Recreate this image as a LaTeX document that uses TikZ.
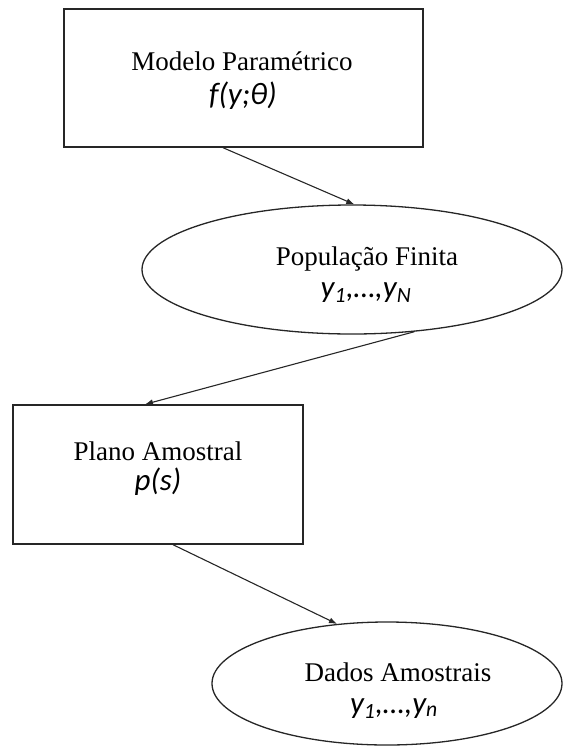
\documentclass[tikz,border=0pt]{standalone}
\usepackage{fontspec}
\setmainfont{Liberation Serif}
\newfontfamily\carl{Carlito}
\usetikzlibrary{shapes.geometric,arrows.meta,calc}
\begin{document}
\begin{tikzpicture}[x=1pt,y=-1pt,
  box/.style={draw=black!85,line width=1.4pt,rectangle,inner sep=0pt},
  oval/.style={draw=black!85,line width=1.3pt,ellipse,inner sep=0pt},
  lbl/.style={anchor=base,inner sep=0pt,font=\fontsize{27}{32}\selectfont},
  mth/.style={anchor=base,inner sep=0pt,font=\carl\itshape\fontsize{31}{36}\selectfont},
  arr/.style={draw=black!85,line width=1.1pt,-{Latex[length=8pt,width=6pt]}}]
\useasboundingbox (0,0) rectangle (563,748);
% shapes
\node[box,minimum width=359pt,minimum height=138pt] (b1) at (243.5,78) {};
\node[oval,minimum width=420pt,minimum height=129pt] (e2) at (352,269.5) {};
\node[box,minimum width=290pt,minimum height=139pt] (b3) at (158,474.5) {};
\node[oval,minimum width=350pt,minimum height=123pt] (e4) at (387,683.5) {};
% labels
\node[lbl] (t1a) at (242,70) {Modelo Paramétrico};
\node[mth] (t1b) at (243,104) {f(y;θ)};
\node[lbl] (t2a) at (367,265) {População Finita};
\node[mth] (t2b) at (366,297) {y\textsubscript{1},…,y\textsubscript{N}};
\node[lbl] (t3a) at (158,460) {Plano Amostral};
\node[mth] (t3b) at (158,490) {p(s)};
\node[lbl] (t4a) at (398,681) {Dados Amostrais};
\node[mth] (t4b) at (394,713) {y\textsubscript{1},…,y\textsubscript{n}};
% connectors
\draw[arr] ($(b1.south)+(-20.5,0)$) -- (e2.88);
\draw[arr] (e2.-45.5) -- ($(b3.north)+(-13,0)$);
\draw[arr] ($(b3.south)+(15,0)$) -- (e4.130);
\end{tikzpicture}
\end{document}
